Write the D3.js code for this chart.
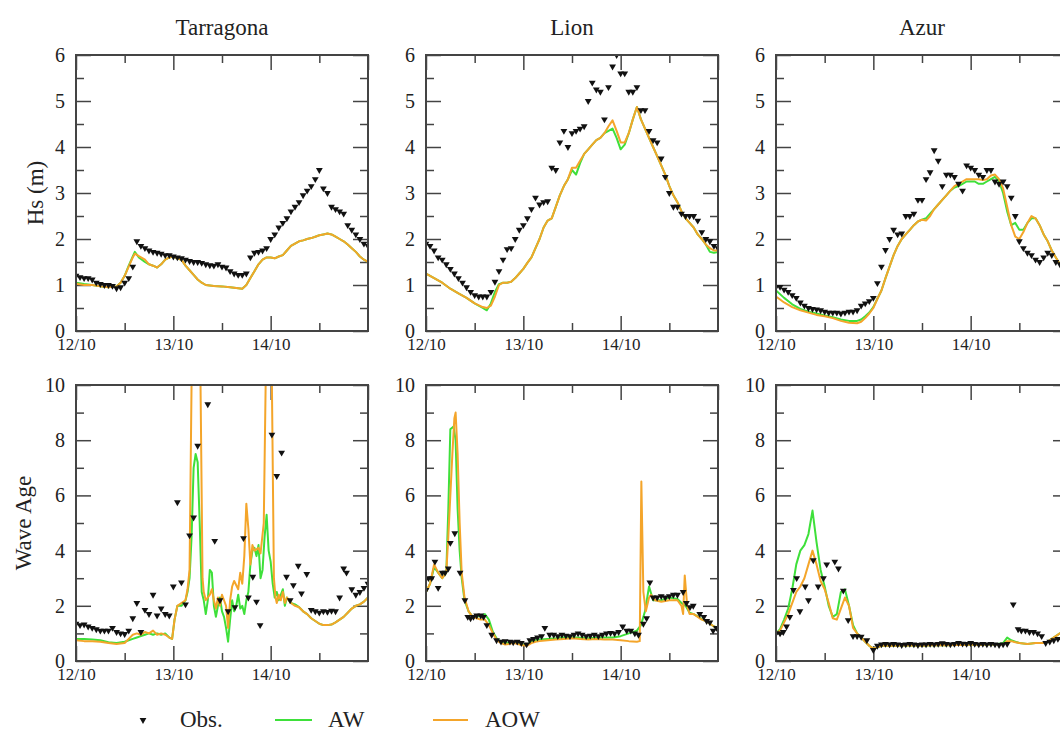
<!DOCTYPE html>
<html>
<head>
<meta charset="utf-8">
<script src="https://cdn.jsdelivr.net/npm/d3@7"></script>
<style>
  body { margin: 0; background: #fff; }
  svg { display: block; }
  text { font-family: "Liberation Serif", "Times New Roman", serif; fill: #222; }
</style>
</head>
<body>
<svg id="chart" width="1060" height="732"></svg>
<script>
// ---- Categories, ticks and labels ----------------------------------------
const sites = ["Tarragona", "Lion", "Azur"];
const rowLabels = ["Hs (m)", "Wave Age"];
const dayTicks = [0, 24, 48];                 // hours since 12/10 00:00
const dayLabels = ["12/10", "13/10", "14/10"];
const halfDayTicks = [12, 36, 60];
const hsTicks = [0, 1, 2, 3, 4, 5, 6];
const hsMinorTicks = [0.5, 1.5, 2.5, 3.5, 4.5, 5.5];
const ageTicks = [0, 2, 4, 6, 8, 10];
const ageMinorTicks = [1, 3, 5, 7, 9];
const seriesNames = ["Obs.", "AW", "AOW"];

// ---- Significant wave height: [hour, Hs] ---------------------------------
const tarragonaHsObs = [[0,1.2],[1,1.17],[2,1.15],[3,1.15],[4,1.12],[5,1.05],[6,1.02],[7,1.0],[8,1.0],[9,0.98],[10,0.93],[11,0.95],[12,1.05],[13,1.15],[14,1.4],[15,1.95],[16,1.85],[17,1.8],[18,1.75],[19,1.72],[20,1.7],[21,1.68],[22,1.65],[23,1.65],[24,1.62],[25,1.6],[26,1.58],[27,1.55],[28,1.52],[29,1.5],[30,1.5],[31,1.48],[32,1.45],[33,1.43],[34,1.42],[35,1.45],[36,1.4],[37,1.38],[38,1.3],[39,1.25],[40,1.22],[41,1.22],[42,1.25],[43,1.6],[44,1.7],[45,1.72],[46,1.75],[47,1.8],[48,2.0],[49,2.1],[50,2.25],[51,2.35],[52,2.45],[53,2.6],[54,2.7],[55,2.8],[56,2.95],[57,3.05],[58,3.15],[59,3.3],[60,3.5],[61,3.1],[62,3.0],[63,2.7],[64,2.65],[65,2.6],[66,2.55],[67,2.3],[68,2.2],[69,2.1],[70,2.0],[71,1.9],[72,1.85]];
const tarragonaHsAW = [[0,1.05],[2,1.02],[4,1.0],[6,0.97],[8,0.95],[10,0.97],[11,1.05],[12,1.2],[13,1.42],[14,1.62],[14.5,1.72],[15.5,1.6],[17,1.5],[18,1.45],[19,1.42],[20,1.38],[21,1.45],[22,1.55],[23,1.6],[24,1.62],[25,1.58],[26,1.55],[27,1.42],[28,1.32],[29,1.22],[30,1.12],[31,1.05],[32,1.0],[34,0.98],[36,0.97],[38,0.95],[40,0.93],[41,0.92],[42,1.0],[43,1.15],[44,1.3],[45,1.45],[46,1.55],[47,1.6],[48,1.6],[49,1.58],[50,1.62],[51,1.65],[52,1.75],[53,1.85],[54,1.9],[55,1.95],[56,1.97],[57,2.0],[58,2.02],[59,2.05],[60,2.08],[61,2.1],[62,2.12],[63,2.1],[64,2.05],[65,2.0],[66,1.95],[67,1.88],[68,1.8],[69,1.72],[70,1.62],[71,1.55],[72,1.5]];
const tarragonaHsAOW = [[0,1.03],[2,1.0],[4,1.0],[6,0.97],[8,0.95],[10,0.97],[11,1.05],[12,1.2],[13,1.4],[14,1.6],[14.5,1.68],[15.5,1.63],[17,1.55],[18,1.45],[19,1.42],[20,1.38],[21,1.45],[22,1.55],[23,1.6],[24,1.62],[25,1.58],[26,1.55],[27,1.42],[28,1.32],[29,1.22],[30,1.12],[31,1.05],[32,1.0],[34,0.98],[36,0.97],[38,0.95],[40,0.93],[41,0.92],[42,1.0],[43,1.15],[44,1.3],[45,1.45],[46,1.55],[47,1.6],[48,1.6],[49,1.58],[50,1.62],[51,1.65],[52,1.75],[53,1.85],[54,1.9],[55,1.95],[56,1.97],[57,2.0],[58,2.02],[59,2.05],[60,2.08],[61,2.1],[62,2.12],[63,2.1],[64,2.05],[65,2.0],[66,1.95],[67,1.88],[68,1.8],[69,1.72],[70,1.62],[71,1.55],[72,1.5]];

const lionHsObs = [[0,1.9],[1,1.85],[2,1.75],[3,1.6],[4,1.55],[5,1.45],[6,1.35],[7,1.25],[8,1.15],[9,1.05],[10,0.95],[11,0.85],[12,0.78],[13,0.75],[14,0.75],[15,0.75],[16,0.85],[17,1.07],[18,1.3],[19,1.55],[20,1.78],[21,1.8],[22,2.0],[23,2.2],[24,2.3],[25,2.45],[26,2.65],[27,2.9],[28,2.75],[29,2.8],[30,2.82],[31,3.55],[32,3.5],[33,4.1],[34,4.35],[35,4.0],[36,4.3],[37,4.35],[38,4.4],[39,4.45],[40,5.0],[41,5.4],[42,5.25],[43,5.2],[44,4.6],[45,5.3],[46,5.75],[47,6.0],[48,5.6],[49,5.6],[50,5.2],[51,5.2],[52,5.3],[53,4.8],[54,4.8],[55,4.35],[56,4.15],[57,4.1],[58,3.75],[59,3.35],[60,3.0],[61,2.7],[62,2.7],[63,2.55],[64,2.5],[65,2.5],[66,2.5],[67,2.4],[68,2.15],[69,2.0],[70,1.95],[71,1.85],[72,1.8]];
const lionHsAW = [[0,1.25],[2,1.15],[4,1.05],[6,0.92],[8,0.82],[10,0.72],[12,0.6],[14,0.5],[15,0.45],[16,0.6],[17,0.85],[18,1.02],[19,1.05],[20,1.05],[21,1.07],[22,1.15],[23,1.25],[24,1.35],[25,1.48],[26,1.6],[27,1.8],[28,2.0],[29,2.25],[30,2.4],[31,2.45],[32,2.7],[33,2.95],[34,3.15],[35,3.3],[36,3.5],[37,3.4],[38,3.65],[39,3.85],[40,3.95],[41,4.05],[42,4.15],[43,4.2],[44,4.3],[45,4.35],[46,4.4],[47,4.2],[48,3.95],[49,4.05],[50,4.3],[51,4.6],[52,4.87],[53,4.6],[54,4.4],[55,4.2],[56,4.0],[57,3.8],[58,3.6],[59,3.4],[60,3.15],[61,2.95],[62,2.8],[63,2.6],[64,2.45],[65,2.35],[66,2.25],[67,2.1],[68,2.0],[69,1.88],[70,1.72],[71,1.7],[72,1.72]];
const lionHsAOW = [[0,1.25],[2,1.15],[4,1.05],[6,0.92],[8,0.82],[10,0.72],[12,0.6],[14,0.52],[15,0.5],[16,0.55],[17,0.75],[18,1.0],[19,1.05],[20,1.05],[21,1.07],[22,1.15],[23,1.25],[24,1.35],[25,1.48],[26,1.6],[27,1.8],[28,2.0],[29,2.25],[30,2.4],[31,2.45],[32,2.7],[33,2.95],[34,3.15],[35,3.3],[36,3.55],[37,3.55],[38,3.7],[39,3.85],[40,3.95],[41,4.05],[42,4.15],[43,4.2],[44,4.3],[45,4.45],[46,4.58],[47,4.35],[48,4.1],[49,4.1],[50,4.3],[51,4.6],[52,4.87],[53,4.6],[54,4.4],[55,4.2],[56,4.0],[57,3.8],[58,3.6],[59,3.4],[60,3.15],[61,2.95],[62,2.8],[63,2.6],[64,2.45],[65,2.35],[66,2.25],[67,2.1],[68,2.0],[69,1.88],[70,1.8],[71,1.75],[72,1.75]];

const azurHsObs = [[0,0.96],[1,0.96],[2,0.9],[3,0.85],[4,0.78],[5,0.72],[6,0.62],[7,0.55],[8,0.5],[9,0.48],[10,0.47],[11,0.45],[12,0.42],[13,0.4],[14,0.4],[15,0.4],[16,0.38],[17,0.4],[18,0.42],[19,0.42],[20,0.45],[21,0.55],[22,0.6],[23,0.65],[24,0.72],[25,1.04],[26,1.4],[27,1.76],[28,2.0],[29,2.2],[30,2.1],[31,2.12],[32,2.5],[33,2.5],[34,2.55],[35,2.85],[36,2.85],[37,3.3],[38,3.45],[39,3.93],[40,3.7],[41,3.15],[42,3.4],[43,3.4],[44,3.35],[45,3.2],[46,3.05],[47,3.6],[48,3.55],[49,3.5],[50,3.4],[51,3.35],[52,3.5],[53,3.5],[54,3.25],[55,3.2],[56,3.25],[57,3.15],[58,2.9],[59,2.5],[60,1.95],[61,1.8],[62,1.7],[63,1.65],[64,1.55],[65,1.5],[66,1.6],[67,1.7],[68,1.65],[69,1.5],[70,1.45],[71,1.5],[72,1.4]];
const azurHsAW = [[0,0.88],[2,0.72],[4,0.58],[6,0.48],[8,0.42],[10,0.38],[12,0.34],[14,0.3],[16,0.25],[18,0.22],[20,0.22],[21,0.25],[22,0.32],[23,0.4],[24,0.52],[25,0.7],[26,0.88],[27,1.15],[28,1.4],[29,1.65],[30,1.85],[31,2.0],[32,2.1],[33,2.2],[34,2.3],[35,2.38],[36,2.42],[37,2.45],[38,2.55],[39,2.65],[40,2.75],[41,2.85],[42,2.95],[43,3.05],[44,3.12],[45,3.15],[46,3.2],[47,3.25],[48,3.25],[49,3.25],[50,3.2],[51,3.2],[52,3.25],[53,3.3],[54,3.35],[55,3.25],[56,3.0],[57,2.6],[58,2.3],[59,2.35],[60,2.2],[61,2.2],[62,2.35],[63,2.45],[64,2.45],[65,2.3],[66,2.1],[67,1.95],[68,1.75],[69,1.6],[70,1.45],[71,1.35],[72,1.3]];
const azurHsAOW = [[0,0.75],[2,0.62],[4,0.52],[6,0.45],[8,0.4],[10,0.35],[12,0.32],[14,0.28],[16,0.22],[18,0.18],[20,0.17],[21,0.2],[22,0.28],[23,0.38],[24,0.5],[25,0.7],[26,0.88],[27,1.15],[28,1.4],[29,1.65],[30,1.85],[31,2.0],[32,2.1],[33,2.2],[34,2.3],[35,2.38],[36,2.42],[37,2.4],[38,2.5],[39,2.65],[40,2.75],[41,2.85],[42,2.95],[43,3.05],[44,3.15],[45,3.2],[46,3.25],[47,3.3],[48,3.3],[49,3.3],[50,3.3],[51,3.28],[52,3.3],[53,3.38],[54,3.4],[55,3.3],[56,3.1],[57,2.7],[58,2.3],[59,2.05],[60,2.0],[61,2.15],[62,2.35],[63,2.5],[64,2.45],[65,2.3],[66,2.1],[67,1.95],[68,1.75],[69,1.6],[70,1.45],[71,1.35],[72,1.3]];

// ---- Wave age: [hour, age] -------------------------------------------------
const tarragonaAgeObs = [[0,1.35],[1,1.3],[2,1.32],[3,1.25],[4,1.2],[5,1.15],[6,1.1],[7,1.1],[8,1.1],[9,1.2],[10,1.05],[11,1.0],[12,0.98],[13,1.1],[14,1.55],[15,2.1],[16,1.05],[17,1.85],[18,1.7],[19,2.4],[20,1.65],[21,1.9],[22,1.7],[23,1.65],[24,2.7],[25,5.75],[26,2.85],[27,2.05],[28,4.55],[29,5.2],[30,7.8],[32.5,9.3],[34.2,4.35],[35.5,2.2],[37.5,1.8],[39.2,1.95],[41.3,4.45],[42.5,2.3],[43.6,3.05],[44.5,2.15],[45.4,1.3],[48.3,8.2],[49.5,6.7],[50.7,7.55],[51.9,3.05],[52.8,2.2],[53.6,2.75],[54.8,3.45],[55.6,2.45],[56.9,3.15],[58,1.85],[59,1.8],[60,1.75],[61,1.8],[62,1.78],[63,1.82],[64,1.8],[65,2.3],[66,3.35],[66.7,3.2],[68,2.6],[69,2.4],[70,2.5],[71,2.65],[72,2.8]];
const tarragonaAgeAW = [[0,0.8],[2,0.8],[4,0.78],[6,0.75],[8,0.68],[10,0.65],[12,0.7],[13,0.75],[14,0.8],[15,0.85],[16,0.9],[17,0.95],[18,1.0],[19,0.95],[20,1.0],[21,0.95],[22,1.0],[23,0.85],[23.7,0.8],[24.3,1.5],[25,2.0],[26,2.0],[27,2.2],[27.5,2.5],[28,3.0],[28.5,4.5],[29,7.0],[29.5,7.5],[30,7.2],[30.5,5.0],[31,2.5],[31.5,2.2],[32,1.7],[32.5,2.2],[33,3.3],[33.5,3.2],[34,2.0],[34.5,1.6],[35,2.0],[35.5,2.3],[36,1.8],[36.5,1.6],[37,1.2],[37.5,0.7],[38,1.5],[38.5,2.2],[39,1.8],[39.5,2.0],[40,2.4],[40.5,1.9],[41,2.0],[41.5,1.7],[42,2.2],[42.5,2.5],[43,3.5],[43.5,4.0],[44,4.1],[44.5,3.8],[45,4.2],[45.5,3.0],[46,3.3],[46.5,4.5],[47,5.3],[47.5,4.0],[48,3.6],[48.5,2.8],[49,2.3],[49.5,2.5],[50,2.2],[50.5,2.4],[51,2.6],[51.5,2.0],[52,2.3],[53,2.1],[54,2.05],[55,1.95],[56,1.8],[57,1.7],[58,1.55],[59,1.45],[60,1.35],[61,1.3],[62,1.3],[63,1.32],[64,1.4],[65,1.5],[66,1.6],[67,1.75],[68,1.9],[69,2.0],[70,2.05],[71,2.15],[72,2.3]];
const tarragonaAgeAOW = [[0,0.75],[2,0.72],[4,0.72],[6,0.7],[8,0.65],[10,0.62],[12,0.65],[13,0.8],[14,0.95],[15,1.0],[16,0.95],[17,1.05],[18,1.0],[19,1.1],[20,0.95],[21,1.0],[22,0.95],[23,0.85],[23.7,0.8],[24.3,1.5],[25,2.0],[26,2.1],[27,2.2],[27.5,2.6],[28,3.3],[28.6,11.5],[30.6,11.5],[31.2,3.0],[31.5,2.5],[32,2.2],[33,2.4],[33.5,2.6],[34,2.2],[34.5,1.9],[35,2.3],[35.5,2.0],[36,2.4],[36.5,2.2],[37,2.0],[37.5,1.2],[38,2.2],[38.5,2.7],[39,2.9],[40,2.6],[40.5,3.2],[41,2.8],[41.5,3.8],[42,5.7],[42.5,4.8],[43,3.5],[43.5,4.2],[44,4.0],[45,4.1],[45.5,3.9],[46.3,5.0],[46.9,11.5],[48.2,11.5],[48.8,3.0],[49.2,2.3],[49.5,2.1],[50,2.4],[50.5,2.2],[51,2.5],[51.5,2.1],[52,2.3],[53,2.1],[54,2.0],[55,1.95],[56,1.8],[57,1.7],[58,1.55],[59,1.45],[60,1.35],[61,1.3],[62,1.3],[63,1.32],[64,1.4],[65,1.5],[66,1.6],[67,1.75],[68,1.9],[69,2.0],[70,2.05],[71,2.15],[72,2.3]];

const lionAgeObs = [[0,2.57],[0.6,3.0],[1.4,3.0],[2.2,3.6],[3,2.65],[4,3.2],[4.7,3.2],[5.5,3.35],[6,4.28],[7.1,4.63],[8.4,3.2],[9.6,2.2],[10.3,1.6],[11,1.55],[11.7,1.6],[12.5,1.65],[13.5,1.65],[14.2,1.6],[15,1.3],[16.2,0.95],[17.4,0.75],[18.5,0.7],[19.5,0.72],[20.7,0.7],[21.5,0.68],[22.5,0.7],[23.5,0.65],[24.8,0.6],[25.6,0.75],[26.5,0.8],[27.5,0.85],[28.5,0.9],[29.3,1.2],[30.5,0.95],[31.5,0.95],[32.5,0.9],[33.5,0.95],[34.5,0.92],[35.5,0.9],[36.5,0.95],[37.5,1.0],[38.5,0.95],[39.5,0.9],[40.5,0.92],[41.5,0.95],[42.5,0.9],[43.5,0.95],[44.5,1.0],[45.5,1.02],[46.5,1.0],[47.5,1.05],[48.5,1.25],[49.5,1.1],[50.5,1.1],[51.5,1.0],[52.4,0.95],[53.6,1.35],[54.4,1.55],[55.2,2.85],[56,2.3],[57,2.3],[58,2.35],[59,2.3],[60,2.35],[61,2.4],[62,2.4],[63.4,2.5],[64.2,2.1],[65.1,1.95],[65.9,2.0],[67.5,1.7],[68.5,1.6],[69.2,1.45],[70,1.4],[70.8,1.1],[71.6,1.2]];
const lionAgeAW = [[0,2.5],[1,2.8],[2,3.4],[3,3.2],[4,3.0],[5,3.2],[5.5,5.5],[6,8.4],[6.8,8.5],[7.3,8.0],[7.8,5.5],[8.3,4.0],[8.8,3.0],[9.5,2.2],[10.5,1.8],[11.5,1.6],[12.5,1.6],[13.5,1.65],[14.5,1.7],[15.5,1.5],[16.5,1.05],[17.5,0.8],[18.5,0.7],[19.5,0.65],[20.5,0.66],[21.5,0.68],[22.5,0.66],[23.5,0.62],[24.8,0.58],[26,0.7],[27,0.75],[28,0.78],[30,0.8],[32,0.82],[34,0.85],[36,0.86],[38,0.84],[40,0.82],[42,0.84],[44,0.85],[46,0.85],[48,0.9],[50,1.0],[52,1.1],[53,1.3],[54,1.8],[55,2.7],[56,2.2],[58,2.2],[60,2.3],[62,2.25],[63,2.1],[64,2.0],[65,1.75],[66,1.7],[67,1.62],[68,1.52],[69,1.45],[70,1.35],[71,1.25],[72,1.2]];
const lionAgeAOW = [[0,2.5],[1,2.8],[2,3.5],[3,3.2],[4,3.0],[5,3.2],[5.5,4.5],[6,6.0],[6.5,7.5],[7,8.8],[7.3,9.0],[7.8,7.5],[8.3,5.0],[8.8,3.2],[9.5,2.3],[10.5,1.8],[11.5,1.6],[12.5,1.55],[13.5,1.5],[14.5,1.5],[15.5,1.3],[16.5,1.0],[17.5,0.75],[18.5,0.65],[19.5,0.6],[20.5,0.62],[21.5,0.65],[22.5,0.62],[23.5,0.58],[24.8,0.55],[26,0.65],[27,0.7],[28,0.72],[30,0.75],[32,0.78],[34,0.8],[36,0.82],[38,0.8],[40,0.78],[42,0.8],[44,0.78],[46,0.78],[48,0.75],[50,0.72],[52,0.7],[52.7,0.72],[53.1,6.5],[53.6,2.5],[54.2,1.8],[55,2.3],[55.5,2.4],[56.5,2.2],[58,2.15],[60,2.2],[62,2.2],[63,2.0],[63.4,1.7],[63.8,3.1],[64.4,2.0],[65,1.7],[66,1.7],[67,1.6],[68,1.5],[69,1.45],[70,1.35],[71,1.25],[72,1.2]];

const azurAgeObs = [[0,1.0],[1,1.0],[1.8,1.05],[2.6,1.25],[3.4,1.6],[4.3,2.57],[5.1,3.0],[5.9,1.8],[7.2,2.7],[8,2.2],[9.2,3.65],[10.4,2.7],[11.7,3.0],[12.5,3.5],[14.5,3.6],[15.4,3.35],[16.6,2.55],[17.8,1.48],[19,0.9],[20,0.9],[21,0.88],[22.4,0.75],[24,0.4],[25,0.55],[26,0.6],[27,0.62],[28,0.6],[29,0.62],[30,0.6],[31,0.58],[32,0.6],[33,0.62],[34,0.6],[35,0.58],[36,0.6],[37,0.6],[38,0.62],[39,0.6],[40,0.62],[41,0.64],[42,0.62],[43,0.6],[44,0.62],[45,0.65],[46,0.63],[47,0.62],[48,0.65],[49,0.62],[50,0.6],[51,0.62],[52,0.6],[53,0.62],[54,0.6],[55,0.58],[56,0.6],[57,0.62],[58.5,2.05],[59.7,1.15],[60.5,1.1],[61.5,1.1],[62.5,1.05],[63.5,1.05],[64.5,1.0],[65.5,0.9],[66.5,0.65],[67.5,0.7],[68.5,0.75],[69.5,0.8]];
const azurAgeAW = [[0,1.0],[1,1.15],[2,1.5],[3,1.9],[4,2.6],[5,3.5],[6,4.0],[7,4.2],[8,4.6],[9,5.45],[10,4.3],[11,3.3],[12,2.7],[13,2.0],[14,1.6],[15,1.7],[16,2.5],[17,2.6],[18,2.0],[19,1.3],[20,1.0],[21,0.85],[22,0.7],[23,0.55],[24,0.45],[25,0.5],[26,0.55],[28,0.56],[30,0.55],[32,0.57],[34,0.56],[36,0.55],[38,0.57],[40,0.58],[42,0.57],[44,0.58],[46,0.58],[48,0.6],[50,0.58],[52,0.6],[54,0.6],[56,0.65],[57,0.85],[58,0.75],[59,0.7],[60,0.65],[62,0.62],[64,0.65],[66,0.65],[67,0.7],[68,0.8],[69,0.9],[70,1.0],[72,1.1]];
const azurAgeAOW = [[0,1.0],[1,1.1],[2,1.4],[3,1.7],[4,2.1],[5,2.5],[6,2.7],[7,3.0],[8,3.5],[9,4.0],[10,3.5],[11,2.9],[12,2.6],[13,2.1],[14,1.55],[15,1.5],[16,1.9],[17,2.3],[18,2.0],[19,1.2],[20,1.0],[21,0.85],[22,0.7],[23,0.55],[24,0.45],[25,0.5],[26,0.55],[28,0.56],[30,0.55],[32,0.57],[34,0.56],[36,0.55],[38,0.57],[40,0.58],[42,0.57],[44,0.58],[46,0.58],[48,0.6],[50,0.58],[52,0.6],[54,0.6],[56,0.6],[57,0.72],[58,0.72],[59,0.68],[60,0.65],[62,0.62],[64,0.65],[66,0.65],[67,0.7],[68,0.8],[69,0.9],[70,1.0],[72,1.1]];

// ---- Panel table assembled from the arrays above ---------------------------
const rows = [
  { label: rowLabels[0], max: 6, ticks: hsTicks, minor: hsMinorTicks,
    obs: [tarragonaHsObs, lionHsObs, azurHsObs],
    aw: [tarragonaHsAW, lionHsAW, azurHsAW],
    aow: [tarragonaHsAOW, lionHsAOW, azurHsAOW] },
  { label: rowLabels[1], max: 10, ticks: ageTicks, minor: ageMinorTicks,
    obs: [tarragonaAgeObs, lionAgeObs, azurAgeObs],
    aw: [tarragonaAgeAW, lionAgeAW, azurAgeAW],
    aow: [tarragonaAgeAOW, lionAgeAOW, azurAgeAOW] }
];

// ---- Layout --------------------------------------------------------------
const colLeft = [76, 426, 776];
const rowTop = [55, 385];
const panelW = 292, panelH = 276;
const majorLen = 15, minorLen = 8;
const awColor = "#3ee03a", aowColor = "#f4a52a", obsColor = "#111";
const frameColor = "#444";

const svg = d3.select("#chart");
const triangle = d3.symbol().type(d3.symbolTriangle).size(20);

rows.forEach((row, ri) => {
  sites.forEach((site, ci) => {
    const g = svg.append("g").attr("transform", `translate(${colLeft[ci]},${rowTop[ri]})`);
    const x = d3.scaleLinear().domain([0, 72]).range([0, panelW]);
    const y = d3.scaleLinear().domain([0, row.max]).range([panelH, 0]);

    const clipId = `clip-${ri}-${ci}`;
    g.append("clipPath").attr("id", clipId)
      .append("rect").attr("width", panelW).attr("height", panelH);

    // axes: major ticks with labels, minor ticks without, all pointing inward
    const styleAxis = sel => {
      sel.select(".domain").remove();
      sel.attr("font-family", null);
      sel.selectAll(".tick line").attr("stroke", frameColor).attr("stroke-width", 1.5);
    };
    g.append("g").attr("transform", `translate(0,${panelH})`)
      .call(d3.axisBottom(x).tickValues(dayTicks).tickSize(-majorLen).tickPadding(7)
        .tickFormat((d, i) => dayLabels[i]))
      .call(styleAxis)
      .call(s => s.selectAll("text").attr("font-size", 17).attr("fill", "#222"));
    g.append("g").attr("transform", `translate(0,${panelH})`)
      .call(d3.axisBottom(x).tickValues(halfDayTicks).tickSize(-minorLen).tickFormat(""))
      .call(styleAxis);
    g.append("g")
      .call(d3.axisTop(x).tickValues(dayTicks.concat([72])).tickSize(-majorLen).tickFormat(""))
      .call(styleAxis);
    g.append("g")
      .call(d3.axisTop(x).tickValues(halfDayTicks).tickSize(-minorLen).tickFormat(""))
      .call(styleAxis);
    g.append("g")
      .call(d3.axisLeft(y).tickValues(row.ticks).tickSize(-majorLen).tickPadding(11)
        .tickFormat(d3.format("d")))
      .call(styleAxis)
      .call(s => s.selectAll("text").attr("font-size", 20).attr("fill", "#222"));
    g.append("g")
      .call(d3.axisLeft(y).tickValues(row.minor).tickSize(-minorLen).tickFormat(""))
      .call(styleAxis);
    g.append("g").attr("transform", `translate(${panelW},0)`)
      .call(d3.axisRight(y).tickValues(row.ticks).tickSize(-majorLen).tickFormat(""))
      .call(styleAxis);
    g.append("g").attr("transform", `translate(${panelW},0)`)
      .call(d3.axisRight(y).tickValues(row.minor).tickSize(-minorLen).tickFormat(""))
      .call(styleAxis);

    // model and observed series
    const line = d3.line().x(d => x(d[0])).y(d => y(d[1]));
    const plot = g.append("g").attr("clip-path", `url(#${clipId})`);
    plot.append("path").datum(row.aw[ci]).attr("d", line)
      .attr("fill", "none").attr("stroke", awColor).attr("stroke-width", 2).attr("stroke-linejoin", "round");
    plot.append("path").datum(row.aow[ci]).attr("d", line)
      .attr("fill", "none").attr("stroke", aowColor).attr("stroke-width", 2).attr("stroke-linejoin", "round");
    plot.selectAll("path.obs").data(row.obs[ci]).join("path")
      .attr("class", "obs")
      .attr("d", triangle)
      .attr("transform", d => `translate(${x(d[0])},${y(d[1])}) rotate(180)`)
      .attr("fill", obsColor);

    // frame
    g.append("rect").attr("width", panelW).attr("height", panelH)
      .attr("fill", "none").attr("stroke", frameColor).attr("stroke-width", 2);

    if (ri === 0) {
      g.append("text").attr("x", panelW / 2).attr("y", -20)
        .attr("text-anchor", "middle").attr("font-size", 23).text(site);
    }
  });
});

// row labels
svg.append("text").attr("transform", `translate(43,${rowTop[0] + panelH / 2}) rotate(-90)`)
  .attr("text-anchor", "middle").attr("font-size", 23).text(rows[0].label);
svg.append("text").attr("transform", `translate(31,${rowTop[1] + panelH / 2}) rotate(-90)`)
  .attr("text-anchor", "middle").attr("font-size", 23).text(rows[1].label);

// legend
const legend = svg.append("g");
legend.append("path").attr("d", triangle)
  .attr("transform", "translate(143,720) rotate(180)").attr("fill", obsColor);
legend.append("text").attr("x", 180).attr("y", 727).attr("font-size", 23).text(seriesNames[0]);
legend.append("line").attr("x1", 275).attr("x2", 312).attr("y1", 720).attr("y2", 720)
  .attr("stroke", awColor).attr("stroke-width", 2);
legend.append("text").attr("x", 328).attr("y", 727).attr("font-size", 23).text(seriesNames[1]);
legend.append("line").attr("x1", 433).attr("x2", 468).attr("y1", 720).attr("y2", 720)
  .attr("stroke", aowColor).attr("stroke-width", 2);
legend.append("text").attr("x", 485).attr("y", 727).attr("font-size", 23).text(seriesNames[2]);
</script>
</body>
</html>
